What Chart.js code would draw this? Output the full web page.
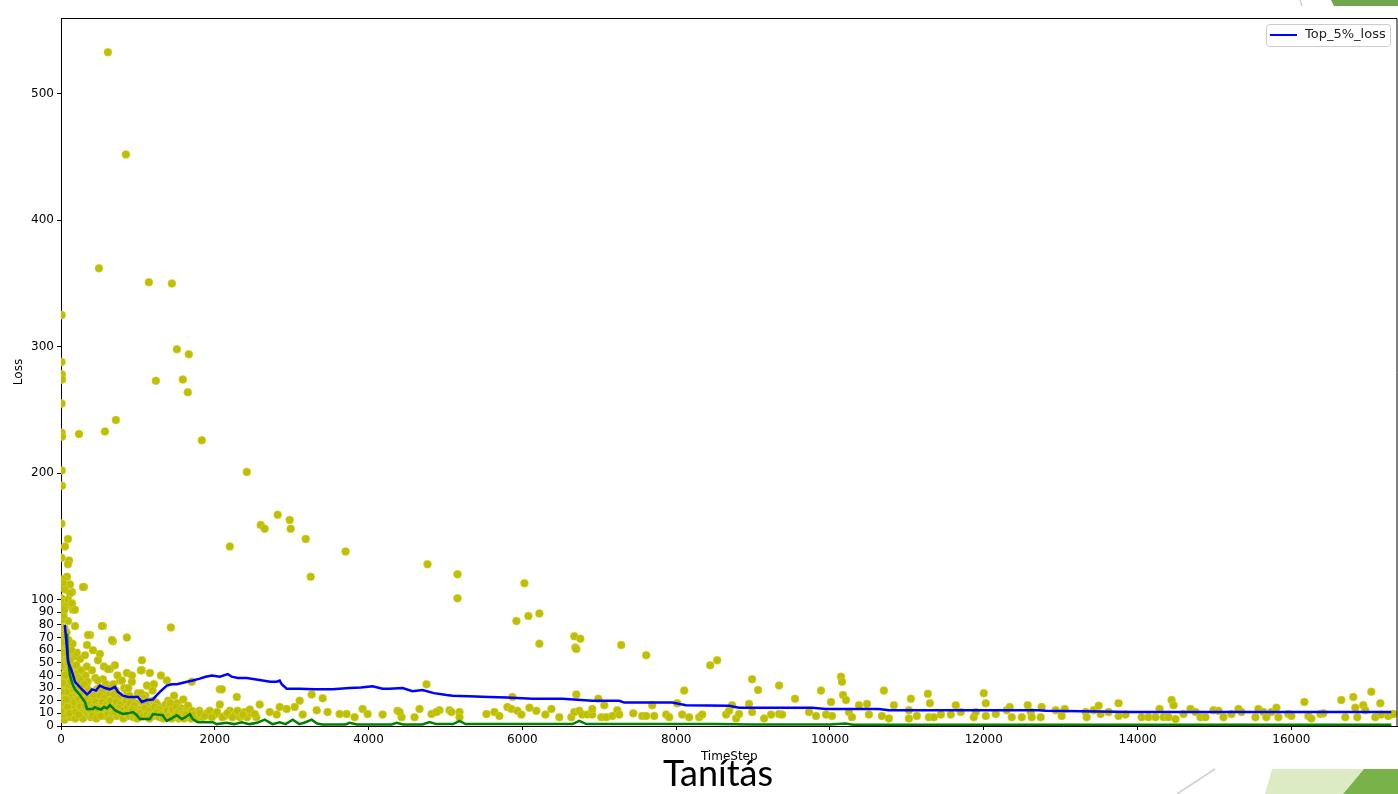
<!DOCTYPE html>
<html>
<head>
<meta charset="utf-8">
<script src="https://cdn.jsdelivr.net/npm/chart.js@4/dist/chart.umd.min.js"></script>
<style>
  body { margin: 0; background: #fff; }
  #wrap { position: relative; width: 1398px; height: 794px; overflow: hidden; }
  #slideTitle {
    position: absolute; left: 618px; top: 754px; width: 200px;
    text-align: center; font-family: Lato, sans-serif; font-size: 36px;
    line-height: 36px; color: #000;
  }
</style>
</head>
<body>
<div id="wrap">
  <canvas id="chart" width="1402" height="794"></canvas>
  <div id="slideTitle">Tanítás</div>
</div>
<script>
// ticks
var xTicks = [0, 2000, 4000, 6000, 8000, 10000, 12000, 14000, 16000]
var yTicks = [0, 10, 20, 30, 40, 50, 60, 70, 80, 90, 100, 200, 300, 400, 500]

// loss of single steps, the big ones
var highLoss = [
  [10, 325], [8, 288], [12, 278], [14, 274], [9, 255], [10, 232], [15, 229], [234, 231],
  [11, 202], [13, 190], [610, 533], [844, 452], [494, 362], [571, 233], [714, 242],
  [1143, 351], [1442, 350], [1507, 298], [1662, 294], [1584, 274], [1649, 264], [1234, 273],
  [1831, 226], [2195, 142], [2416, 201], [2597, 159], [2649, 156], [2818, 167], [2974, 163],
  [2987, 156], [3182, 148], [3247, 118], [3701, 138], [4766, 128], [5156, 120], [5156, 101],
  [6026, 113], [5922, 83], [6078, 87], [6221, 89], [6221, 65], [6675, 71], [6753, 69],
  [6688, 62], [7285, 64], [7610, 56], [8442, 48], [8533, 52], [8987, 37], [9338, 32],
  [10143, 39], [10156, 35], [8104, 28], [9883, 28], [10701, 28], [11273, 25.5], [12000, 26]
]

// early steps, 0..2600
var earlyLoss = [
  [6, 160], [91, 148], [52, 142], [8, 133], [104, 131], [91, 128], [78, 118], [26, 116],
  [117, 112], [299, 110], [52, 108], [143, 106], [4, 101], [26, 98], [120, 97], [155, 92],
  [60, 95], [26, 113], [286, 110], [117, 105], [91, 100], [143, 97], [182, 92], [26, 90],
  [91, 83], [182, 79], [545, 79], [1429, 78], [377, 72], [857, 70], [675, 67], [338, 64],
  [247, 53], [506, 57], [480, 52], [701, 48], [636, 45], [1052, 52], [1052, 44], [1156, 42],
  [857, 42], [1299, 40], [403, 44], [545, 37], [766, 36], [922, 35], [1117, 32], [1377, 36],
  [1700, 35], [532, 79], [662, 68], [351, 72], [416, 60], [312, 56], [558, 47], [610, 45],
  [792, 36], [922, 40], [1208, 33], [1039, 44],
  [20, 72], [35, 66], [15, 61], [42, 55], [28, 50], [55, 46], [12, 84], [38, 38], [60, 35],
  [25, 32], [48, 28], [70, 25], [18, 22], [40, 19], [65, 16], [30, 13], [52, 10], [75, 8],
  [22, 6], [45, 5], [8, 78], [33, 87], [58, 69], [47, 77], [66, 58], [12, 48], [74, 52],
  [85, 62], [100, 57], [92, 50], [110, 45], [125, 41], [98, 37], [135, 33], [115, 29],
  [145, 26], [105, 23], [155, 20], [130, 17], [165, 14], [140, 11], [175, 9], [120, 7],
  [185, 6], [80, 42], [95, 31], [68, 27], [160, 38], [88, 12], [150, 65], [170, 55],
  [10, 40], [22, 34], [5, 27], [14, 18], [36, 9], [6, 12], [62, 21], [84, 15], [108, 10],
  [128, 35], [146, 47], [162, 29], [178, 19], [192, 11], [205, 58], [222, 22], [238, 16],
  [18, 66], [44, 92], [72, 74], [96, 68], [118, 52], [134, 60], [32, 58], [56, 40],
  [200, 48], [215, 42], [230, 38], [210, 34], [245, 31], [225, 27], [260, 24], [240, 21],
  [275, 18], [255, 15], [290, 12], [270, 10], [305, 8], [285, 6], [195, 29], [265, 44],
  [252, 36], [282, 27], [298, 20], [318, 16], [342, 11], [362, 9], [388, 7], [228, 9],
  [320, 40], [345, 35], [330, 31], [360, 28], [380, 25], [350, 22], [400, 20], [370, 17],
  [420, 15], [390, 12], [440, 10], [410, 8], [460, 6], [335, 47], [445, 38], [300, 33],
  [428, 24], [452, 19], [468, 29], [492, 16], [518, 13], [546, 11], [574, 8], [598, 26],
  [480, 36], [500, 30], [530, 27], [510, 24], [560, 22], [540, 19], [590, 17], [570, 14],
  [620, 12], [600, 9], [650, 7], [630, 5], [585, 33], [475, 14], [515, 8],
  [612, 30], [644, 20], [662, 15], [676, 10], [708, 16], [726, 8], [758, 24], [786, 13],
  [680, 33], [710, 28], [690, 25], [740, 22], [720, 19], [770, 17], [750, 14], [800, 12],
  [780, 9], [830, 7], [810, 6], [735, 40], [700, 11], [845, 20],
  [822, 30], [848, 10], [868, 15], [884, 8], [906, 12], [942, 7], [968, 18], [1018, 13],
  [860, 27], [890, 24], [920, 21], [900, 18], [950, 16], [930, 13], [980, 11], [960, 9],
  [1010, 7], [990, 6], [875, 30], [1000, 26],
  [1028, 10], [1068, 8], [1098, 24], [1126, 15], [1162, 11], [1182, 19], [1212, 8],
  [1040, 26], [1080, 22], [1060, 19], [1110, 17], [1090, 14], [1140, 12], [1120, 9],
  [1170, 8], [1150, 6], [1190, 28],
  [1230, 10], [1262, 16], [1292, 12], [1318, 9], [1346, 14], [1372, 8], [1392, 20],
  [1200, 20], [1240, 18], [1220, 15], [1270, 13], [1250, 11], [1300, 9], [1280, 7], [1330, 6],
  [1360, 17], [1400, 15], [1380, 12], [1430, 10], [1410, 8], [1460, 7], [1440, 6], [1470, 24],
  [1422, 18], [1452, 13], [1488, 9], [1512, 18], [1532, 6], [1562, 14], [1582, 11],
  [1500, 15], [1540, 12], [1520, 10], [1570, 9], [1550, 7], [1600, 6], [1590, 21],
  [1640, 13], [1680, 11], [1660, 8], [1710, 7], [1690, 6], [1750, 10], [1780, 8], [1760, 6],
  [1620, 9], [1652, 16], [1702, 12], [1728, 9], [1798, 12], [1842, 7], [1898, 10],
  [1805, 10], [1870, 8], [1935, 12], [2000, 9], [2130, 8], [2195, 12], [2260, 9], [2325, 7],
  [2390, 11], [2065, 29], [2286, 23], [2065, 17], [2091, 29],
  [1962, 7], [2030, 11], [2098, 7], [2162, 10], [2228, 7], [2296, 12], [2352, 8],
  [2420, 7], [2470, 10], [2540, 7]
]

// later steps, 2000..17380
var lateLoss = [
  [2584, 17], [3260, 25], [3403, 22], [3104, 20], [2364, 9], [2455, 13], [2519, 9.5],
  [2714, 11], [2805, 9], [2844, 15], [2935, 13.5], [3039, 15], [3143, 9], [3325, 12.5],
  [3467, 11], [3623, 9.5], [3714, 9.5], [3818, 7], [3922, 13.5], [3987, 9.5], [4182, 9],
  [4377, 12], [4429, 7], [4597, 7], [4662, 13.5], [4753, 33], [4818, 9.5], [4922, 12.5],
  [5052, 12.5], [5182, 11], [5182, 7], [5532, 9.5], [4403, 11], [4883, 11], [5078, 11],
  [5636, 11], [5701, 8], [5805, 15], [5857, 13.5], [5870, 23], [5935, 12], [5987, 9],
  [6091, 14.5], [6182, 12], [6701, 61], [6299, 9], [6377, 13.5], [6480, 7], [6636, 7],
  [6675, 11], [6740, 12], [6779, 9], [6844, 9], [6909, 9], [6701, 25], [6909, 13.5],
  [6987, 21.5], [7065, 16.5], [7026, 7], [7091, 7], [7169, 8], [7234, 12.5], [7260, 9],
  [7442, 10], [7558, 8], [7610, 8], [7688, 16.5], [7714, 8], [7870, 9], [7909, 7],
  [8013, 18], [8078, 9], [8169, 7], [8299, 7], [8338, 9], [8649, 9], [8688, 12],
  [8727, 16.5], [8779, 6], [8818, 9.5], [8948, 17.5], [9065, 28.5], [8987, 11], [9143, 6],
  [9234, 9], [9338, 9.5], [9377, 9], [9545, 21.5], [9727, 11], [9818, 8], [9948, 9],
  [10013, 19], [10026, 8], [10169, 24.5], [10208, 20.5], [10247, 11], [10286, 7],
  [10377, 16.5], [10481, 17.5], [10506, 9], [10675, 8], [10766, 6], [10831, 16.5],
  [11026, 12.5], [11052, 21.5], [11026, 6], [11130, 8], [11299, 18], [11286, 7], [11351, 7],
  [11442, 9], [11571, 9], [11636, 16.5], [11701, 11], [11870, 7], [12026, 18], [11896, 11],
  [12026, 8], [12156, 9.5], [12299, 12.5], [12338, 15], [12364, 7], [12494, 7],
  [12571, 16.5], [12610, 11], [12623, 7], [12740, 7], [12753, 15], [12935, 12.5],
  [13013, 8], [13052, 13.5], [13325, 11], [13338, 7], [13429, 12.5], [13494, 16],
  [13519, 9.5], [13623, 11], [13753, 18], [13753, 8], [13844, 9], [14052, 7], [14143, 7],
  [14234, 7], [14286, 13.5], [14338, 7], [14403, 7], [14442, 20.5], [14468, 16.5],
  [14494, 5.5], [14597, 9.5], [14688, 13.5], [14753, 11], [14818, 7], [14883, 7],
  [14987, 12.5], [15052, 12], [15117, 7], [15221, 9.5], [15312, 13.5], [15351, 11],
  [15532, 7], [15571, 13.5], [15636, 11], [15675, 7], [15740, 11], [15805, 14.5],
  [15831, 7], [15961, 9.5], [16000, 8], [16169, 19], [16221, 8], [16260, 6], [16377, 9.5],
  [16416, 10], [16649, 20.5], [16701, 7], [16805, 23], [16831, 14.5], [16857, 7],
  [16935, 16.5], [16961, 12.5], [17039, 27], [17091, 7], [17156, 18], [17169, 9],
  [17260, 8], [17325, 9.5]
]

// running lines
var top5Loss = [
  [50, 80], [78, 61], [91, 51], [143, 43], [182, 35], [273, 29], [338, 25], [377, 27],
  [403, 29], [455, 28], [506, 32], [571, 30], [636, 29], [701, 31], [740, 27], [805, 24],
  [870, 23], [935, 23], [1000, 23], [1052, 19], [1117, 20.5], [1195, 21], [1240, 24],
  [1286, 27], [1340, 30], [1377, 32], [1440, 33], [1506, 33], [1571, 34], [1640, 35],
  [1714, 36], [1805, 37.5], [1880, 39], [1961, 40], [2065, 39], [2169, 41], [2221, 39],
  [2300, 38], [2416, 38], [2520, 37], [2623, 36], [2720, 35], [2805, 35], [2844, 36],
  [2870, 33], [2935, 29.5], [3104, 29.5], [3300, 29], [3532, 29], [3753, 30], [3900, 30.5],
  [4052, 31.5], [4182, 29.5], [4273, 29.5], [4442, 30], [4571, 27.5], [4701, 28.5],
  [4850, 26], [5013, 24.5], [5091, 24], [5300, 23.5], [5571, 23], [5800, 22.5],
  [6130, 21.5], [6520, 21.5], [6909, 20], [7260, 20], [7325, 18.5], [7948, 18.5],
  [8130, 16.5], [8688, 16], [8818, 14.5], [9766, 14.5], [9948, 13.5], [10636, 13.5],
  [10766, 12.5], [12714, 12.5], [12805, 12], [13500, 11.5], [13922, 11], [16000, 11],
  [17300, 11]
]

var minLoss = [
  [78, 73], [91, 53], [117, 40], [150, 33], [182, 29], [247, 24.5], [312, 19], [338, 13.5],
  [416, 13.5], [440, 15], [468, 14], [520, 13], [560, 15], [600, 14], [636, 16.5],
  [680, 14], [701, 12.5], [750, 11], [805, 9.5], [870, 10], [935, 11], [980, 9],
  [1026, 5.5], [1156, 5.5], [1195, 9.5], [1260, 9], [1325, 8.5], [1350, 6], [1377, 4],
  [1440, 6], [1506, 8.5], [1571, 5.5], [1620, 7], [1675, 9.5], [1714, 5.5], [1779, 3],
  [1974, 3], [2026, 1.5], [2150, 2.5], [2250, 1.5], [2350, 3], [2450, 1.5], [2550, 2.5],
  [2649, 5], [2750, 1.5], [2844, 3], [2920, 1.5], [3013, 5], [3100, 1.5], [3180, 3],
  [3260, 5], [3330, 2], [3400, 1.2], [3700, 1.2], [3753, 2.5], [3850, 1.2], [4300, 1.2],
  [4364, 2.5], [4450, 1.2], [4700, 1.2], [4792, 3.2], [4880, 1.5], [5100, 1.5], [5182, 4],
  [5260, 1.5], [6650, 1.5], [6740, 4], [6830, 1.5], [7500, 1.5], [8500, 1.5], [9000, 1.2],
  [10000, 1.2], [10200, 2], [10300, 1], [12000, 1], [14000, 1], [17300, 1]
]

function toPoints (list) {
  return list.map(function (p) { return { x: p[0], y: p[1] } })
}

var font = { family: 'DejaVu Sans', size: 12 }

var slideDecor = {
  id: 'slideDecor',
  afterDraw: function (chart) {
    var ctx = chart.ctx
    var area = chart.chartArea
    ctx.save()
    // top and right spine
    ctx.strokeStyle = '#000'
    ctx.lineWidth = 1
    ctx.beginPath()
    ctx.moveTo(area.left, area.top + 0.5)
    ctx.lineTo(area.right - 0.5, area.top + 0.5)
    ctx.lineTo(area.right - 0.5, area.bottom)
    ctx.stroke()

    // legend box
    ctx.fillStyle = 'rgba(255,255,255,0.85)'
    ctx.strokeStyle = '#cccccc'
    ctx.beginPath()
    ctx.roundRect(1266.5, 24.5, 124, 22, 3)
    ctx.fill()
    ctx.stroke()
    ctx.strokeStyle = '#0000ff'
    ctx.lineWidth = 2
    ctx.beginPath()
    ctx.moveTo(1270, 35)
    ctx.lineTo(1297, 35)
    ctx.stroke()
    ctx.fillStyle = '#222'
    ctx.font = '13px "DejaVu Sans"'
    ctx.textBaseline = 'middle'
    ctx.fillText(chart.data.datasets[0].label, 1305, 35)

    // slide shapes
    ctx.fillStyle = '#70a64d'
    ctx.beginPath()
    ctx.moveTo(1331, 0); ctx.lineTo(1402, 0); ctx.lineTo(1402, 6); ctx.lineTo(1334, 6)
    ctx.fill()
    ctx.strokeStyle = '#cfcfcf'
    ctx.lineWidth = 1.5
    ctx.beginPath()
    ctx.moveTo(1300, 0); ctx.lineTo(1302, 6)
    ctx.stroke()
    ctx.beginPath()
    ctx.moveTo(1215, 769); ctx.lineTo(1177, 794)
    ctx.stroke()
    ctx.fillStyle = '#dcebc4'
    ctx.beginPath()
    ctx.moveTo(1272, 769); ctx.lineTo(1364, 769); ctx.lineTo(1343, 794); ctx.lineTo(1265, 794)
    ctx.fill()
    ctx.fillStyle = '#7ab24a'
    ctx.beginPath()
    ctx.moveTo(1364, 769); ctx.lineTo(1402, 769); ctx.lineTo(1402, 794); ctx.lineTo(1343, 794)
    ctx.fill()
    ctx.restore()
  }
}

function axisOptions (ticks, title) {
  return {
    type: 'linear',
    afterBuildTicks: function (scale) {
      scale.ticks = ticks.map(function (v) { return { value: v } })
    },
    grid: { drawOnChartArea: false, tickLength: 4, color: '#000', tickColor: '#000' },
    border: { color: '#000', width: 1 },
    ticks: {
      color: '#000', font: font, padding: 3, autoSkip: false, maxRotation: 0,
      callback: function (v) { return String(v) }
    },
    title: { display: true, text: title, color: '#000', font: font, padding: 0 }
  }
}

var xAxis = axisOptions(xTicks, 'TimeStep')
xAxis.min = 0
xAxis.max = 17380
xAxis.afterFit = function (scale) {
  scale.height = 38
  scale.paddingLeft = 0
  scale.paddingRight = 0
}
xAxis.title.padding = { top: 8, bottom: 0 }

var yAxis = axisOptions(yTicks, 'Loss')
yAxis.min = 0
yAxis.max = 560
yAxis.afterFit = function (scale) {
  scale.width = 61
  scale.paddingTop = 0
  scale.paddingBottom = 0
}
yAxis.title.padding = { top: 12, bottom: 0 }

var lossColor = '#bfbf00'

new Chart(document.getElementById('chart'), {
  type: 'scatter',
  data: {
    datasets: [
      {
        label: 'Top_5%_loss', data: toPoints(top5Loss), showLine: true,
        borderColor: '#0000ff', borderWidth: 2.5, pointRadius: 0, order: 0
      },
      {
        label: 'min_loss', data: toPoints(minLoss), showLine: true,
        borderColor: '#008000', borderWidth: 2.5, pointRadius: 0, order: 1
      },
      {
        label: 'loss', data: toPoints(highLoss.concat(earlyLoss, lateLoss)),
        backgroundColor: lossColor, borderColor: '#d6d65a', borderWidth: 0.5,
        pointRadius: 4, order: 2
      }
    ]
  },
  options: {
    responsive: false,
    animation: false,
    layout: { padding: { left: 0, top: 18, right: 1, bottom: 30 } },
    plugins: { legend: { display: false }, tooltip: { enabled: false } },
    scales: { x: xAxis, y: yAxis }
  },
  plugins: [slideDecor]
})
</script>
</body>
</html>
